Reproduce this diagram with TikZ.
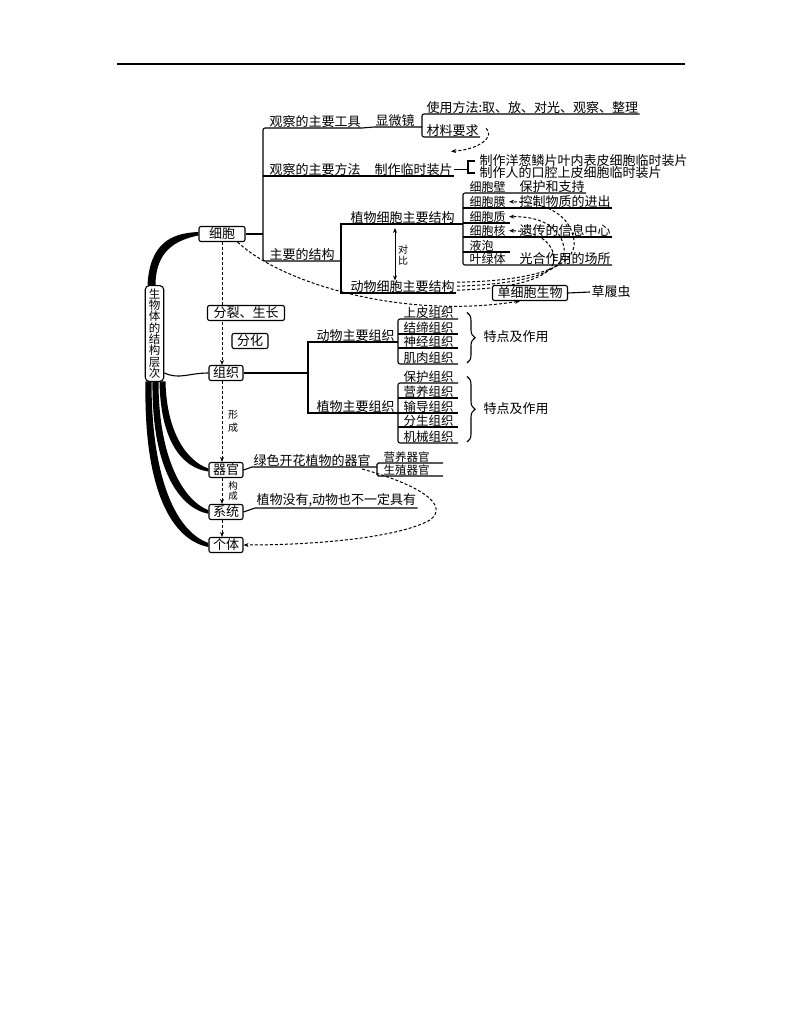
\documentclass[tikz,border=0pt]{standalone}
\usepackage{fontspec}
\setmainfont{Noto Sans CJK SC}
\usetikzlibrary{arrows.meta,decorations.pathreplacing,calc}
\newcommand{\myfA}{\fontsize{13}{15}\selectfont}
\newcommand{\myfB}{\fontsize{12}{14}\selectfont}
\newcommand{\myfC}{\fontsize{10}{11}\selectfont}
\newcommand{\myfD}{\fontsize{12.5}{14}\selectfont}
\begin{document}
\begin{tikzpicture}[x=1pt,y=-1pt,line width=1.1pt,
  ulab/.style={anchor=south west, inner xsep=1pt, inner ysep=0.2pt, font=\myfA},
  ulabs/.style={ulab, font=\myfB},
  ulabt/.style={ulab, font=\myfD},
  rlab/.style={anchor=west, inner sep=1pt, font=\myfA},
  bx/.style={draw, line width=1.1pt, rounded corners=2pt, fill=white, inner xsep=4pt, inner ysep=1.5pt, font=\myfA},
  dsh/.style={dash pattern=on 3pt off 2pt, line width=1pt},
  arr/.style={-{Stealth[length=5pt,width=4pt]}},
  brc/.style={decorate, decoration={brace, amplitude=8pt}}
]
\useasboundingbox (0,0) rectangle (800,1035);
\fill[white] (0,0) rectangle (800,1035);
\draw[line width=1.6pt] (117,64) -- (685,64);

% ---------- left column boxes
\node[bx, inner xsep=10pt] (cell) at (222,234) {细胞};
\node[bx] (org) at (226,373) {组织};
\node[bx] (organ) at (226,470) {器官};
\node[bx] (sys) at (226,512) {系统};
\node[bx] (indiv) at (226,545) {个体};
\node[bx, align=center, font=\fontsize{11.5}{11.3}\selectfont, inner xsep=3.5pt, inner ysep=3pt, rounded corners=4pt] (lvl) at (154.5,333.5) {生\\物\\体\\的\\结\\构\\层\\次};

\draw[dsh, arr] (cell.south) -- (cell.south |- org.north);
\draw[dsh, arr] (org.south -| cell.south) -- (organ.north -| cell.south);
\draw[dsh, arr] (organ.south -| cell.south) -- (sys.north -| cell.south);
\draw[dsh, arr] (sys.south -| cell.south) -- (indiv.north -| cell.south);

\node[bx, inner xsep=6pt] (fl) at (246,313) {分裂、生长};
\node[bx, inner xsep=5pt] (fh) at (250,341) {分化};
\node[font=\fontsize{10}{13}\selectfont, align=center, inner sep=0pt] (xc) at (233,421) {形\\成};
\node[font=\fontsize{9.5}{10}\selectfont, align=center, inner sep=0pt] (gc) at (233,491) {构\\成};

% ---------- tapered curves
\fill ($(lvl.north)+(-7,0.5)$) .. controls ($(lvl.north)+(-5,-42)$) and ($(cell.west)+(-27,-1)$) .. ($(cell.west)+(0,-2)$)
  -- ($(cell.west)+(0,1.5)$) .. controls ($(cell.west)+(-23,6)$) and ($(lvl.north)+(1,-34)$) .. ($(lvl.north)+(1,0.5)$) -- cycle;
\fill ($(lvl.south)+(5,-0.5)$) .. controls ($(lvl.south)+(6,60)$) and ($(organ.west)+(-26,-2)$) .. ($(organ.west)+(0,1.5)$)
  -- ($(organ.west)+(0,-1.5)$) .. controls ($(organ.west)+(-22,-9)$) and ($(lvl.south)+(12,50)$) .. ($(lvl.south)+(11,-0.5)$) -- cycle;
\fill ($(lvl.south)+(-2,-0.5)$) .. controls ($(lvl.south)+(-3,85)$) and ($(sys.west)+(-30,-4)$) .. ($(sys.west)+(0,1.8)$)
  -- ($(sys.west)+(0,-1.8)$) .. controls ($(sys.west)+(-26,-12)$) and ($(lvl.south)+(4,75)$) .. ($(lvl.south)+(4,-0.5)$) -- cycle;
\fill ($(lvl.south)+(-9,-0.5)$) .. controls ($(lvl.south)+(-11,110)$) and ($(indiv.west)+(-36,-5)$) .. ($(indiv.west)+(0,2)$)
  -- ($(indiv.west)+(0,-2)$) .. controls ($(indiv.west)+(-31,-13)$) and ($(lvl.south)+(-3,100)$) .. ($(lvl.south)+(-3,-0.5)$) -- cycle;
\draw ($(lvl.south east)+(0,-9)$) .. controls ($(lvl.south east)+(15,-2)$) and ($(org.west)+(-20,0)$) .. (org.west);

% ---------- top section
\coordinate (v1) at (263,0);
\coordinate (v2) at (422,0);
\coordinate (v3) at (468,0);
\coordinate (v4) at (341,0);
\coordinate (v5) at (463,0);
\coordinate (v6) at (510,0);
\node[ulab] (a1) at (268,128) {观察的主要工具};
\node[ulab] (a2) at (268,176) {观察的主要方法};
\node[ulab] (a3) at (268,261) {主要的结构};
\draw[rounded corners=2pt] (a1.south east) -- (a1.south -| v1) -- (a3.south -| v1) -- (a3.south -| v4);
\draw (a2.south -| v1) -- (a2.south east);
\draw (cell.east) -- (cell.east -| v1);

\node[ulab] (b1) at (374,127) {显微镜};
\draw (a1.south east) -- (b1.south west) -- (b1.south -| v2);
\node[ulab] (c1) at (425,114) {使用方法:取、放、对光、观察、整理};
\node[ulab] (c2) at (425,137) {材料要求};
\draw[rounded corners=2pt] (c1.south east) -- (c1.south -| v2) -- (c2.south -| v2) -- (c2.south east);

\node[ulab] (b2) at (373,176) {制作临时装片};
\draw (a2.south east) -- (b2.south west) -- (b2.south east);
\node[rlab] (d1) at (478,161) {制作洋葱鳞片叶内表皮细胞临时装片};
\node[rlab] (d2) at (478,173) {制作人的口腔上皮细胞临时装片};
\draw (b2.east) -- (b2.east -| v3);
\draw ($(d1.west)+(-3,0)$) -- (d1.west -| v3) -- (d2.west -| v3) -- ($(d2.west)+(-3,0)$);
\draw[dsh, arr] ($(c2.east)+(6,-2)$) .. controls ($(c2.east)+(15,6)$) and ($(c2.east)+(0,19)$) .. ($(b2.north east)+(-3,-11)$);

% ---------- cell structure
\node[ulab] (e1) at (349,224) {植物细胞主要结构};
\node[ulab] (e2) at (349,293) {动物细胞主要结构};
\draw (e1.south -| v5) -- (e1.south -| v4) -- (e2.south -| v4) -- (e2.south east);
\draw[{Stealth[length=5pt,width=4pt]}-{Stealth[length=5pt,width=4pt]}, line width=0.9pt] ($(e1.south west)+(46,4)$) -- ($(e2.north west)+(46,1)$);
\node[font=\myfC, align=center, inner sep=0pt] (db) at (403,255) {对\\比};

\node[ulabs] (f1) at (468,193) {细胞壁};
\node[ulabs] (f2) at (468,208) {细胞膜};
\node[ulabs] (f3) at (468,223) {细胞质};
\node[ulabs] (f4) at (468,237) {细胞核};
\node[ulabs] (f5) at (468,252) {液泡};
\node[ulabs] (f6) at (468,265) {叶绿体};
\node[ulab] (g1) at (518,193) {保护和支持};
\node[ulab] (g2) at (518,208) {控制物质的进出};
\node[ulab] (g4) at (518,237) {遗传的信息中心};
\node[ulab] (g6) at (518,265) {光合作用的场所};
\draw[rounded corners=2pt] (g1.south east) -- (f1.south -| v5) -- (f6.south -| v5) -- (g6.south east);
\draw (f2.south -| v5) -- (g2.south east);
\draw (f3.south -| v5) -- (f3.south -| v6);
\draw (f4.south -| v5) -- (g4.south east);
\draw (f5.south -| v5) -- (f5.south -| v6);

\draw[dsh, arr] ($(e2.east)+(1,-4)$) .. controls (530,281) and (578,268) .. (574,240) .. controls (570,214) and (545,202) .. ($(f2.east)+(2,0)$);
\draw[dsh, arr] ($(e2.east)+(1,0)$) .. controls (526,284) and (567,272) .. (564,248) .. controls (561,227) and (540,216) .. ($(f3.east)+(2,0)$);
\draw[dsh, arr] ($(e2.east)+(1,4)$) .. controls (522,288) and (557,276) .. (554,256) .. controls (551,240) and (535,231) .. ($(f4.east)+(2,0)$);

\node[bx, inner xsep=5pt] (u) at (530,293) {单细胞生物};
\node[rlab] (cao) at (590,292) {草履虫};
\draw (u.east) -- (cao.west);
\draw[dsh, arr] ($(cell.south east)+(-8,0)$) .. controls (280,282) and (400,320) .. ($(u.south)+(-10,0)$);

% ---------- tissues
\coordinate (v7) at (308,0);
\coordinate (v8) at (398,0);
\coordinate (v9) at (458,0);
\node[ulab] (h1) at (315,342) {动物主要组织};
\node[ulab] (h2) at (315,413) {植物主要组织};
\draw (org.east) -- (org.east -| v7);
\draw (h1.south -| v8) -- (h1.south -| v7) -- (h2.south -| v7) -- (h2.south -| v8);

\node[ulabt] (k1) at (402,319) {上皮组织};
\node[ulabt] (k2) at (402,334) {结缔组织};
\node[ulabt] (k3) at (402,348) {神经组织};
\node[ulabt] (k4) at (402,364) {肌肉组织};
\draw[rounded corners=2pt] (k1.south -| v9) -- (k1.south -| v8) -- (k4.south -| v8) -- (k4.south -| v9);
\draw (k2.south -| v8) -- (k2.south -| v9);
\draw (k3.south -| v8) -- (k3.south -| v9);
\draw[brc] ($(k1.east -| v9)+(9,0)$) -- ($(k4.south -| v9)+(9,-1)$);
\node[rlab] (t1) at (482,337) {特点及作用};

\node[ulabt] (p1) at (402,383) {保护组织};
\node[ulabt] (p2) at (402,398) {营养组织};
\node[ulabt] (p3) at (402,413) {输导组织};
\node[ulabt] (p4) at (402,427) {分生组织};
\node[ulabt] (p5) at (402,443) {机械组织};
\draw[rounded corners=2pt] (p1.south -| v9) -- (p1.south -| v8) -- (p5.south -| v8) -- (p5.south -| v9);
\draw (p2.south -| v8) -- (p2.south -| v9);
\draw (p3.south -| v8) -- (p3.south -| v9);
\draw (p4.south -| v8) -- (p4.south -| v9);
\draw[brc] ($(p1.east -| v9)+(9,0)$) -- ($(p5.south -| v9)+(9,-1)$);
\node[rlab] (t2) at (482,409) {特点及作用};

% ---------- organs / systems
\coordinate (v10) at (377,0);
\coordinate (v11) at (443,0);
\node[ulab] (i1) at (252,467) {绿色开花植物的器官};
\draw (organ.east) -- (i1.south west) -- (i1.south -| v10);
\node[ulab, font=\fontsize{11.5}{13}\selectfont] (j1) at (382,463) {营养器官};
\node[ulab, font=\fontsize{11.5}{13}\selectfont] (j2) at (382,476) {生殖器官};
\draw[rounded corners=1.5pt] (j1.south -| v11) -- (j1.south -| v10) -- (j2.south -| v10) -- (j2.south -| v11);

\node[ulab] (s1) at (255,508) {植物没有,动物也不一定具有};
\draw (sys.east) -- (s1.south west) -- (s1.south east);
\draw[dsh, arr] ($(i1.south east)+(-10,2)$) .. controls (420,485) and (450,505) .. (430,520) .. controls (400,537) and (320,545) .. (indiv.east);
\end{tikzpicture}
\end{document}
